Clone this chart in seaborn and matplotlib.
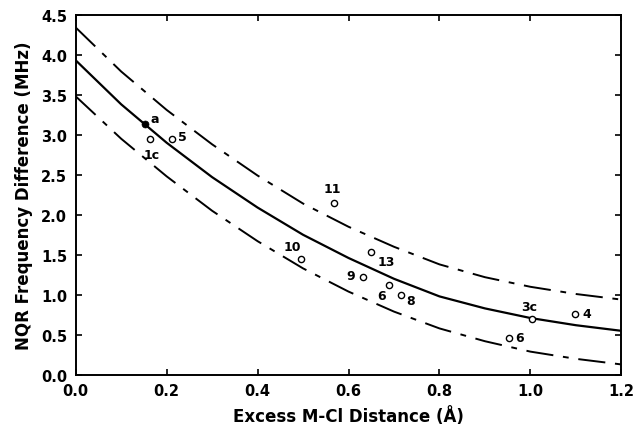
import pandas as pd
import seaborn as sns
import matplotlib.pyplot as plt

# fitted curve at 0.1 steps
curve_x = [0.0, 0.1, 0.2, 0.3, 0.4, 0.5, 0.6, 0.7, 0.8, 0.9, 1.0, 1.1, 1.2]
fit_mid = [3.93, 3.38, 2.90, 2.47, 2.09, 1.75, 1.46, 1.20, 0.98, 0.83, 0.71, 0.62, 0.55]
fit_upper = [4.34, 3.79, 3.31, 2.88, 2.49, 2.14, 1.85, 1.60, 1.38, 1.22, 1.10, 1.01, 0.94]
fit_lower = [3.48, 2.95, 2.48, 2.05, 1.67, 1.33, 1.04, 0.79, 0.58, 0.42, 0.29, 0.20, 0.13]

# measured compounds
pt_label = ['a', '1c', '5', '11', '10', '13', '9', '6', '8', '3c', '4', '6']
pt_x = [0.152, 0.163, 0.211, 0.567, 0.495, 0.650, 0.631, 0.690, 0.716, 1.004, 1.099, 0.952]
pt_y = [3.13, 2.95, 2.95, 2.15, 1.45, 1.54, 1.22, 1.12, 1.00, 0.70, 0.76, 0.46]
pt_filled = [True] + [False] * 11

# label offsets (pixels)
offsets = [(10, 6), (2, -16), (11, 2), (-1, 14), (-8, 12), (15, -10), (-12, 2), (-8, -10), (9, -6), (-3, 12), (11, 1), (11, 1)]

curves = pd.DataFrame({'x': curve_x, 'mid': fit_mid, 'upper': fit_upper, 'lower': fit_lower})
pts = pd.DataFrame({'x': pt_x, 'y': pt_y, 'label': pt_label, 'filled': pt_filled})

sns.set_style('ticks')
plt.rcParams['font.family'] = ['DejaVu Sans']
plt.rcParams['font.weight'] = 'bold'
plt.rcParams['text.color'] = 'black'
plt.rcParams['axes.labelcolor'] = 'black'
plt.rcParams['xtick.color'] = 'black'
plt.rcParams['ytick.color'] = 'black'
plt.rcParams['axes.edgecolor'] = 'black'

fig = plt.figure(figsize=(6.36, 4.35), dpi=100)
ax = fig.add_axes([0.119, 0.136, 0.858, 0.828])

sns.lineplot(data=curves, x='x', y='mid', color='black', lw=1.6, ax=ax)
dashdot = (0, (14, 5, 3, 5))
sns.lineplot(data=curves, x='x', y='upper', color='black', lw=1.4, ax=ax, linestyle=dashdot)
sns.lineplot(data=curves, x='x', y='lower', color='black', lw=1.4, ax=ax, linestyle=dashdot)

sns.scatterplot(data=pts[~pts.filled], x='x', y='y', marker='o', s=20,
                facecolor='white', edgecolor='black', linewidth=1.0, ax=ax, zorder=5)
sns.scatterplot(data=pts[pts.filled], x='x', y='y', marker='o', s=26,
                color='black', edgecolor='black', ax=ax, zorder=5)

for (lx, ly, lab), off in zip(zip(pt_x, pt_y, pt_label), offsets):
    ax.annotate(lab, (lx, ly), xytext=off, textcoords='offset pixels',
                ha='center', va='center', fontsize=9, fontweight='bold', color='black')

ax.set_xlim(0, 1.2)
ax.set_ylim(0, 4.5)
ax.set_xticks([0.0, 0.2, 0.4, 0.6, 0.8, 1.0, 1.2])
ax.set_yticks([0.0, 0.5, 1.0, 1.5, 2.0, 2.5, 3.0, 3.5, 4.0, 4.5])
ax.xaxis.set_major_formatter(plt.FormatStrFormatter('%.1f'))
ax.yaxis.set_major_formatter(plt.FormatStrFormatter('%.1f'))
ax.tick_params(direction='in', length=4, width=1.2, top=True, right=True,
               labelsize=10.5, pad=6, colors='black')
for s in ax.spines.values():
    s.set_linewidth(1.4)
    s.set_color('black')

ax.set_xlabel('Excess M-Cl Distance (Å)', fontsize=12, fontweight='bold', labelpad=6)
ax.set_ylabel('NQR Frequency Difference (MHz)', fontsize=12, fontweight='bold', labelpad=6)

fig.savefig('out.png', dpi=100)
